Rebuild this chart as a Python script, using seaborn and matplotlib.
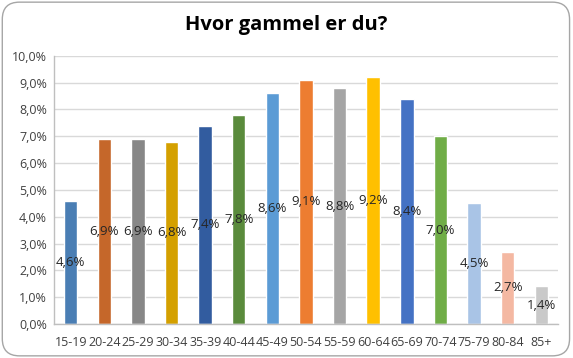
import matplotlib
matplotlib.use("Agg")
import matplotlib.pyplot as plt
from matplotlib.patches import FancyBboxPatch
from matplotlib.ticker import FuncFormatter
import pandas as pd
import seaborn as sns

# --- Data ---
age_groups = ['15-19', '20-24', '25-29', '30-34', '35-39', '40-44', '45-49', '50-54',
              '55-59', '60-64', '65-69', '70-74', '75-79', '80-84', '85+']
shares = [4.6, 6.9, 6.9, 6.8, 7.4, 7.8, 8.6, 9.1, 8.8, 9.2, 8.4, 7.0, 4.5, 2.7, 1.4]
bar_colors = ['#4A7EB4', '#C5672A', '#878787', '#D4A000', '#325C9F', '#5A8B3C',
              '#5B9BD5', '#ED7D31', '#A5A5A5', '#FFC000', '#4472C4', '#70AD47',
              '#A9C4E6', '#F4B8A2', '#C9C9C9']

df = pd.DataFrame({'Alder': age_groups, 'Andel': shares})

sns.set_style("white")
plt.rcParams['font.family'] = ['Open Sans', 'DejaVu Sans']

fig = plt.figure(figsize=(5.73, 3.58), dpi=100)
ax = fig.add_axes([0.094, 0.095, 0.880, 0.749])

sns.barplot(data=df, x='Alder', y='Andel', hue='Alder', palette=bar_colors,
            legend=False, width=0.4, saturation=1, ax=ax)

# data labels in the middle of each bar
for cont in ax.containers:
    ax.bar_label(cont, labels=[f"{v:.1f}%".replace('.', ',') for v in cont.datavalues],
                 label_type='center', fontsize=9.5, color='#262626')

ax.set_ylim(0, 10)
ax.set_xlim(-0.5, len(age_groups) - 0.5)
ax.set_yticks(range(0, 11))
ax.yaxis.set_major_formatter(FuncFormatter(lambda v, p: f"{v:.1f}%".replace('.', ',')))
ax.grid(axis='y', color='#D9D9D9', lw=1)
ax.set_axisbelow(True)
ax.tick_params(axis='both', length=0, labelsize=9, colors='#404040', pad=5)
ax.tick_params(axis='x', pad=9)
ax.set_xlabel('')
ax.set_ylabel('')
for side in ['top', 'right']:
    ax.spines[side].set_visible(False)
for side in ['left', 'bottom']:
    ax.spines[side].set_color('#BFBFBF')
    ax.spines[side].set_linewidth(1)

fig.text(0.5, 0.93, 'Hvor gammel er du?', ha='center', va='center',
         fontsize=14.5, fontweight='bold', color='#000000')

# rounded outer frame
frame = FancyBboxPatch((0.004, 0.006), 0.990, 0.988, boxstyle="round,pad=0,rounding_size=0.03",
                       transform=fig.transFigure, facecolor='none', edgecolor='#A6A6A6',
                       lw=1, mutation_aspect=573 / 358)
fig.patches.append(frame)

fig.savefig('out.png', dpi=100)
